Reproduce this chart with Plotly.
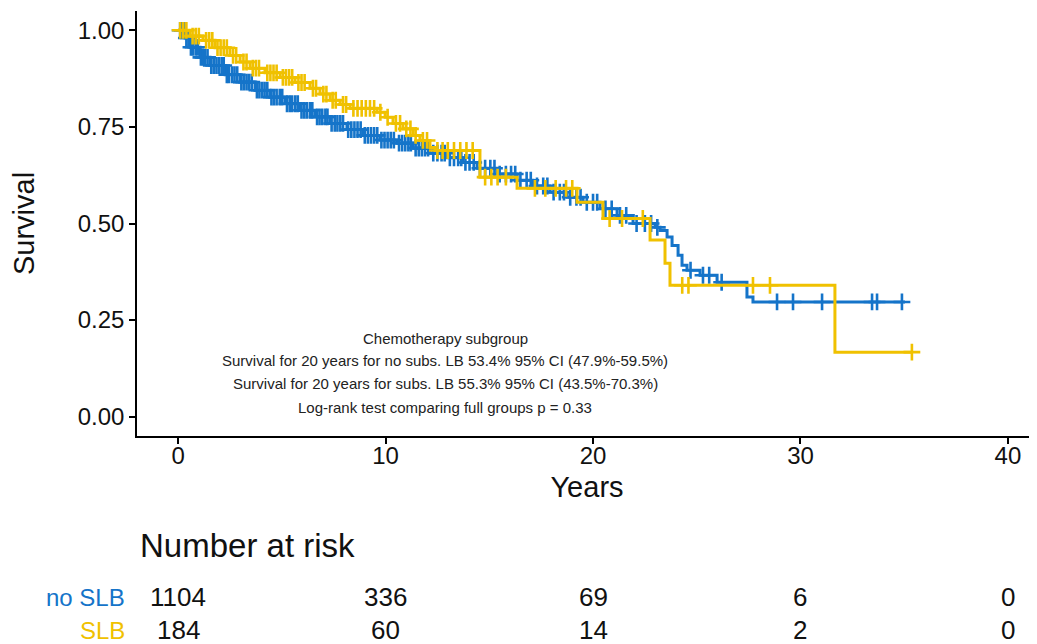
import numpy as np
import plotly.graph_objects as go

# ---------------- data ----------------
# no SLB (blue): event times (years) and survival after each event
noslb_t = [0, 0.34, 0.58, 1.06, 1.54, 2.27, 2.99, 3.71, 4.43, 5.16, 5.88, 6.6, 7.33, 8.14, 8.92,
           9.73, 10.55, 11.33, 12.14, 12.96, 13.73, 14.41, 15.37, 16.34, 17.11, 17.93, 18.75,
           19.52, 20.34, 21.16, 21.93, 22.99, 23.23, 23.57, 23.81, 24.1, 24.29, 24.53, 25.16,
           25.98, 27.42, 27.71]
noslb_s = [1.0, 0.98, 0.956, 0.93, 0.909, 0.885, 0.866, 0.845, 0.827, 0.81, 0.793, 0.776, 0.759,
           0.743, 0.728, 0.716, 0.708, 0.695, 0.682, 0.67, 0.658, 0.643, 0.628, 0.612, 0.597,
           0.581, 0.568, 0.555, 0.538, 0.521, 0.50, 0.49, 0.482, 0.465, 0.443, 0.418, 0.392,
           0.379, 0.366, 0.348, 0.31, 0.297]
noslb_end = 35.04
noslb_cens = [0.1, 0.2, 0.3, 0.4, 0.5, 0.62, 0.72, 0.85, 0.95, 1.1, 1.2, 1.3, 1.42, 1.6, 1.72,
              1.85, 1.97, 2.1, 2.2, 2.35, 2.45, 2.6, 2.72, 2.85, 3.05, 3.17, 3.3, 3.42, 3.55,
              3.8, 3.92, 4.05, 4.17, 4.3, 4.5, 4.62, 4.75, 4.9, 5.02, 5.25, 5.38, 5.5, 5.65,
              5.77, 5.95, 6.08, 6.2, 6.35, 6.47, 6.7, 6.82, 6.95, 7.1, 7.2, 7.4, 7.55, 7.68,
              7.82, 7.95, 8.2, 8.35, 8.5, 8.65, 8.8, 9.0, 9.15, 9.3, 9.45, 9.6, 9.8, 9.95,
              10.1, 10.25, 10.4, 10.65, 10.8, 10.95, 11.1, 11.22, 11.45, 11.6, 11.75, 11.9,
              12.05, 12.3, 12.5, 12.7, 12.85, 13.1, 13.3, 13.5, 13.65, 13.85, 14.05, 14.25,
              14.55, 14.8, 15.05, 15.25, 15.5, 15.8, 16.05, 16.25, 16.5, 16.8, 17.0, 17.3,
              17.6, 17.8, 18.1, 18.4, 18.6, 18.9, 19.2, 19.4, 19.7, 20.0, 20.2, 20.6, 20.9,
              21.3, 21.6, 22.1, 22.5, 22.8, 23.1, 24.7, 25.3, 25.6, 26.2, 28.87, 29.64, 31.04,
              33.45, 33.69, 34.89]

# SLB (yellow)
slb_t = [0, 0.58, 1.2, 1.78, 2.5, 2.99, 3.47, 4.19, 4.92, 5.64, 6.36, 6.84, 7.33, 7.81, 8.29,
         9.59, 9.98, 10.36, 10.84, 11.33, 11.66, 12.14, 12.39, 14.55, 16.34, 19.23, 20.48,
         22.75, 23.47, 23.71, 31.66]
slb_s = [1.0, 0.985, 0.974, 0.955, 0.935, 0.918, 0.902, 0.89, 0.878, 0.865, 0.85, 0.835, 0.819,
         0.808, 0.798, 0.788, 0.775, 0.759, 0.745, 0.728, 0.715, 0.697, 0.689, 0.62, 0.591,
         0.555, 0.513, 0.457, 0.397, 0.34, 0.167]
slb_end = 35.37
slb_cens = [0.1, 0.25, 0.4, 0.7, 0.85, 1.0, 1.35, 1.5, 1.65, 1.9, 2.05, 2.2, 2.35, 2.65, 2.8,
            3.15, 3.3, 3.6, 3.75, 3.9, 4.3, 4.45, 4.6, 4.75, 5.05, 5.2, 5.35, 5.5, 5.8, 5.95,
            6.1, 6.5, 6.65, 7.0, 7.15, 7.45, 7.6, 7.95, 8.1, 8.45, 8.65, 8.85, 9.05, 9.25,
            9.45, 9.75, 10.1, 10.5, 10.7, 11.0, 11.2, 11.45, 11.8, 12.0, 12.5, 12.75, 13.0,
            13.3, 13.6, 13.9, 14.2, 14.8, 15.1, 15.4, 15.8, 17.2, 17.7, 18.2, 18.7, 19.0,
            20.8, 21.4, 22.4, 24.3, 24.6, 27.71, 28.53, 35.37]

years_ticks = [0, 10, 20, 30, 40]
risk_noslb = [1104, 336, 69, 6, 0]
risk_slb = [184, 60, 14, 2, 0]

annot_lines = [
    "Chemotherapy subgroup",
    "Survival for 20 years for no subs. LB 53.4% 95% CI (47.9%-59.5%)",
    "Survival for 20 years for subs. LB 55.3% 95% CI (43.5%-70.3%)",
    "Log-rank test comparing full groups p = 0.33",
]

BLUE = "#1574C9"
YELLOW = "#F0C100"
FONT = "Liberation Sans, Arial, sans-serif"


def step_at(ts, ss, q):
    ts = np.asarray(ts)
    idx = np.searchsorted(ts, np.asarray(q), side="right") - 1
    return np.asarray(ss)[idx]


fig = go.Figure()
for t, s, end, cens, col, name in [
    (noslb_t, noslb_s, noslb_end, noslb_cens, BLUE, "no SLB"),
    (slb_t, slb_s, slb_end, slb_cens, YELLOW, "SLB"),
]:
    xs = list(t) + [end]
    ys = list(s) + [s[-1]]
    fig.add_trace(go.Scatter(x=xs, y=ys, mode="lines", line=dict(color=col, width=3, shape="hv"),
                             name=name, showlegend=False))
    fig.add_trace(go.Scatter(x=cens, y=step_at(t, s, cens), mode="markers",
                             marker=dict(symbol="cross-thin", size=12, color=col,
                                         line=dict(width=2.6, color=col)),
                             showlegend=False, name=name))

# annotation text in plot
ann = []
for line, yv in zip(annot_lines, [0.203, 0.146, 0.087, 0.025]):
    ann.append(dict(x=12.87, y=yv, xref="x", yref="y", text=line, showarrow=False,
                    font=dict(family=FONT, size=15, color="#222")))

# risk table (screen pixel rows converted to paper coords; plot spans 11..436 px)
PH = 425.0
def py(p):
    return (436 - p) / PH

ann.append(dict(x=0.001, y=py(545), xref="paper", yref="paper", text="Number at risk", showarrow=False,
                xanchor="left", yanchor="middle", font=dict(family=FONT, size=33, color="#111")))
for row_vals, label, col, ypx in [(risk_noslb, "no SLB", BLUE, 597), (risk_slb, "SLB", YELLOW, 630)]:
    ann.append(dict(x=-0.011, y=py(ypx), xref="paper", yref="paper", text=label, showarrow=False,
                    xanchor="right", yanchor="middle", font=dict(family=FONT, size=24, color=col)))
    for xv, v in zip(years_ticks, row_vals):
        ann.append(dict(x=xv, y=py(ypx), xref="x", yref="paper", text=str(v), showarrow=False,
                        xanchor="center", yanchor="middle", font=dict(family=FONT, size=26, color="#111")))

# page has an 8px body margin: figure is 8px smaller and margins shifted by 8px
fig.update_layout(
    width=1029, height=636,
    margin=dict(l=129, r=0, t=3, b=208),
    plot_bgcolor="white", paper_bgcolor="white",
    font=dict(family=FONT, color="#111"),
    annotations=ann,
    xaxis=dict(range=[-1.98, 41.4], tickvals=years_ticks, showgrid=False, zeroline=False,
               showline=True, linecolor="black", linewidth=1.5, ticks="outside", ticklen=6,
               tickcolor="black", tickwidth=1.5, tickfont=dict(size=24, color="#111"),
               ticklabelstandoff=-9,
               title=dict(text="Years", font=dict(size=29, color="#111"), standoff=9)),
    yaxis=dict(range=[-0.05, 1.05], tickvals=[0, 0.25, 0.5, 0.75, 1.0],
               ticktext=["0.00", "0.25", "0.50", "0.75", "1.00"], showgrid=False, zeroline=False,
               showline=True, linecolor="black", linewidth=1.5, ticks="outside", ticklen=6,
               tickcolor="black", tickwidth=1.5, tickfont=dict(size=24, color="#111"),
               title=dict(text="Survival", font=dict(size=29, color="#111"), standoff=36)),
)

fig.write_html("out.html", post_script="document.documentElement.style.overflow='hidden';")
